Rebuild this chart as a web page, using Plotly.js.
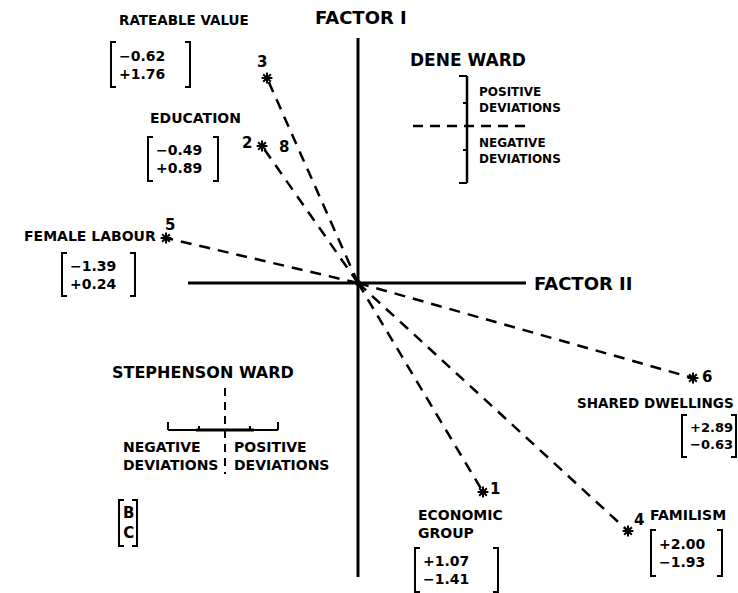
<!DOCTYPE html>
<html><head><meta charset="utf-8">
<script src="https://cdn.plot.ly/plotly-3.0.1.min.js"></script>
<style>html,body{margin:0;padding:0;background:#fff}#chart{width:738px;height:593px}</style>
</head><body><div id="chart"></div>
<script>
// ---- data ----
const varNumbers = ['1','2','3','4','5','6'];
const varNames = ['ECONOMIC<br>GROUP','EDUCATION','RATEABLE VALUE','FAMILISM','FEMALE LABOUR','SHARED DWELLINGS'];
const factorII = [1.25,-0.96,-0.91,2.70,-1.92,3.35];   // horizontal position
const factorI  = [-2.09,1.37,2.05,-2.48,0.45,-0.95];   // vertical position
const stephensonDev = [1.07,-0.49,-0.62,2.00,-1.39,2.89]; // B
const deneDev       = [-1.41,0.89,1.76,-1.93,0.24,-0.63]; // C
const axisNames = ['FACTOR I','FACTOR II'];
const wardNames = ['DENE WARD','STEPHENSON WARD'];

// ---- layout helpers (pixel -> axis units) ----
const OX = 358, OY = 283, S = 100;
const X = px => (px - OX) / S;
const Y = py => (OY - py) / S;
const FONT = 'DejaVu Sans, Arial, sans-serif';

// label / bracket placement (pixels): x, y, anchor, size, number size
const labelPos = [[416,524,'left',14,14],[195,118,'center',14,14],[184,20,'center',13.5,14],[688,515,'center',14,14],[158,236,'right',14,14],[736,403,'right',13.5,13]];
const bracketBox = [[415,498,548,592],[148,218,137,181],[111,190,42,87],[651,722,530,576],[62,135,253,296],[682,736,415,457]];
const numPos = [[495,489],[247,143],[262,62],[639,520],[170,225],[707,377]];

const fmt = v => (v >= 0 ? '+' : '\u2212') + Math.abs(v).toFixed(2);

const shapes = [];
const annotations = [];
const blk = '#000';
function line(x0,y0,x1,y1,w,dash){
  shapes.push({type:'line',xref:'x',yref:'y',x0:X(x0),y0:Y(y0),x1:X(x1),y1:Y(y1),line:{color:blk,width:w,dash:dash||'solid'}});
}
function path(pts,w){
  let d = pts.map((p,i)=>(i?'L':'M')+X(p[0])+','+Y(p[1])).join(' ');
  shapes.push({type:'path',xref:'x',yref:'y',path:d,line:{color:blk,width:w}});
}
function bracket(b){
  const [x0,x1,y0,y1] = b, s = 5;
  path([[x0+s,y0],[x0,y0],[x0,y1],[x0+s,y1]],2);
  path([[x1-s,y0],[x1,y0],[x1,y1],[x1-s,y1]],2);
}
function text(t,px,py,size,anchor,bold,align){
  annotations.push({text:t,x:X(px),y:Y(py),xref:'x',yref:'y',showarrow:false,
    xanchor:anchor||'center',yanchor:'middle',align:align||anchor||'center',
    font:{family:FONT,size:size,color:blk,weight:bold===false?'normal':'bold'}});
}

// factor axes
line(358,38,358,577,3);
line(188,283,526,283,3);
text(axisNames[0],361,17,18,'center');
text(axisNames[1],532,283,18,'left');

// variable labels, numbers, brackets
for(let i=0;i<varNames.length;i++){
  const [lx,ly,la,ls,ns] = labelPos[i];
  text(varNames[i],lx,ly,ls,la,true,la==='right'?'right':'left');
  const [nx,ny] = numPos[i];
  text(varNumbers[i],nx,ny,15,'center');
  const b = bracketBox[i];
  bracket(b);
  text(fmt(stephensonDev[i])+'<br>'+fmt(deneDev[i]),b[0]+6,(b[2]+b[3])/2,ns,'left',true,'left');
}
text('8',284,147,15,'center');

// generic key [B C]
bracket([119,137,500,546]);
text('B<br>C',128,523,15,'center',true);

// Dene ward key
text(wardNames[0],468,60,17,'center');
line(467,76,467,183,2.5);
[[76,8],[103,4],[150,4],[183,8]].forEach(t=>line(467-t[1],t[0],467,t[0],2));
line(413,126,525,126,2.5,'10px,7px');
text('POSITIVE<br>DEVIATIONS',477,100,12,'left',true,'left');
text('NEGATIVE<br>DEVIATIONS',477,151,12,'left',true,'left');

// Stephenson ward key
text(wardNames[1],203,372,16,'center');
line(168,430,278,430,2);
line(196,430,254,430,3);
[[168,8],[199,4],[250,4],[278,8]].forEach(t=>line(t[0],430-t[1],t[0],430,2));
line(225,388,225,474,2,'8px,6px');
text('NEGATIVE<br>DEVIATIONS',220,456,14,'right',true,'left');
text('POSITIVE<br>DEVIATIONS',232,456,14,'left',true,'left');

// vectors from origin (dashed) and asterisk markers
const vx = [], vy = [];
for(let i=0;i<factorII.length;i++){ vx.push(0,factorII[i],null); vy.push(0,factorI[i],null); }
const traces = [
  {x:vx,y:vy,mode:'lines',line:{color:blk,width:2.5,dash:'11px,8px'},hoverinfo:'skip',showlegend:false},
  {x:factorII,y:factorI,mode:'markers',marker:{symbol:'asterisk-open',size:9,color:blk,line:{color:blk,width:2}},hoverinfo:'skip',showlegend:false},
  {x:[0],y:[0],mode:'markers',marker:{symbol:'circle',size:6,color:blk},hoverinfo:'skip',showlegend:false}
];

const layout = {
  width:738,height:593,margin:{l:0,r:0,t:0,b:0},
  paper_bgcolor:'#fff',plot_bgcolor:'#fff',
  xaxis:{range:[X(0),X(738)],visible:false,fixedrange:true},
  yaxis:{range:[Y(593),Y(0)],visible:false,fixedrange:true},
  shapes:shapes,annotations:annotations,showlegend:false
};
Plotly.newPlot('chart',traces,layout,{staticPlot:true});
</script></body></html>
